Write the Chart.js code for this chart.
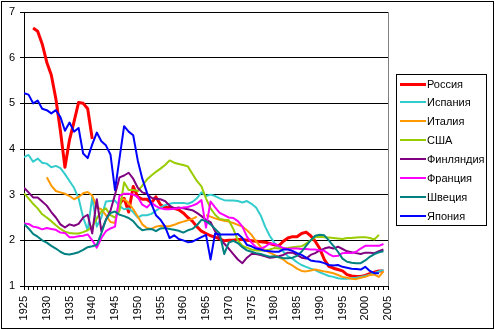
<!DOCTYPE html>
<html><head><meta charset="utf-8">
<script src="https://cdn.jsdelivr.net/npm/chart.js@4"></script>
<style>html,body{margin:0;padding:0;background:#fff;}#wrap{width:495px;height:330px;}</style>
</head><body><div id="wrap"><canvas id="c" width="495" height="330"></canvas></div>
<script>
const years = [
1925,1926,1927,1928,1929,1930,1931,1932,1933,1934,
1935,1936,1937,1938,1939,1940,1941,1942,1943,1944,
1945,1946,1947,1948,1949,1950,1951,1952,1953,1954,
1955,1956,1957,1958,1959,1960,1961,1962,1963,1964,
1965,1966,1967,1968,1969,1970,1971,1972,1973,1974,
1975,1976,1977,1978,1979,1980,1981,1982,1983,1984,
1985,1986,1987,1988,1989,1990,1991,1992,1993,1994,
1995,1996,1997,1998,1999,2000,2001,2002,2003,2004];

const seriesNames = ["Россия","Испания","Италия","США","Финляндия","Франция","Швеция","Япония"];

const russia = [
null,null,6.65,6.58,6.3,5.9,5.62,5.1,4.4,3.6,
4.2,4.6,5.02,5.0,4.88,4.22,null,null,null,null,
null,2.8,2.92,2.62,3.18,2.95,2.9,2.9,2.82,2.95,
2.78,2.72,2.72,2.7,2.67,2.6,2.5,2.42,2.3,2.2,
2.15,2.1,2.07,2.03,1.99,2.0,2.0,2.02,2.02,2.0,
1.99,1.98,1.97,1.96,1.93,1.9,1.88,1.98,2.05,2.08,
2.08,2.15,2.18,2.1,1.98,1.82,1.58,1.43,1.39,1.36,
1.33,1.25,1.22,1.21,1.21,1.23,1.27,1.3,1.33,1.33];

const spain = [
3.82,3.87,3.72,3.79,3.7,3.68,3.6,3.63,3.58,3.45,
3.3,3.15,2.92,2.5,2.22,2.95,2.3,2.5,2.85,2.86,
2.87,2.75,2.68,2.7,2.62,2.5,2.55,2.55,2.58,2.65,
2.72,2.77,2.8,2.82,2.82,2.82,2.8,2.84,2.92,3.05,
2.97,3.0,2.97,2.92,2.88,2.87,2.87,2.86,2.83,2.86,
2.8,2.72,2.55,2.3,2.1,1.95,1.85,1.75,1.65,1.6,
1.52,1.46,1.42,1.38,1.35,1.3,1.26,1.22,1.2,1.17,
1.16,1.16,1.17,1.18,1.2,1.22,1.25,1.28,1.32,1.35];

const italy = [
null,null,null,null,null,3.38,3.2,3.08,3.05,3.02,
2.97,2.9,2.95,3.03,3.06,2.98,2.72,2.68,2.55,2.4,
2.38,2.9,2.9,2.82,2.68,2.52,2.35,2.27,2.25,2.3,
2.32,2.31,2.31,2.34,2.38,2.41,2.44,2.47,2.52,null,
2.55,2.52,2.48,2.45,2.43,2.41,2.38,2.34,2.3,2.22,
2.12,1.98,1.86,1.78,1.73,1.68,1.63,1.58,1.5,1.45,
1.38,1.33,1.32,1.34,1.36,1.34,1.32,1.3,1.28,1.24,
1.2,1.18,1.16,1.15,1.18,1.2,1.24,1.25,1.2,1.32];

const usa = [
3.03,2.92,2.8,2.7,2.57,2.5,2.42,2.33,2.25,2.19,
2.16,2.15,2.15,2.18,2.22,2.3,2.48,2.63,2.7,2.55,
2.5,2.65,3.27,3.1,3.1,3.08,3.2,3.33,3.42,3.5,
3.57,3.65,3.75,3.7,3.67,3.65,3.62,3.46,3.3,3.18,
2.92,2.7,2.56,2.47,2.45,2.44,2.25,2.0,1.88,1.84,
1.8,1.78,1.78,1.78,1.8,1.83,1.82,1.82,1.83,1.85,
1.86,1.87,1.93,2.0,2.07,2.08,2.07,2.06,2.05,2.04,
2.03,2.05,2.05,2.06,2.07,2.07,2.05,2.02,2.12,null];

const finland = [
3.15,3.05,2.94,2.94,2.85,2.76,2.62,2.5,2.35,2.28,
2.35,2.32,2.36,2.5,2.56,2.15,2.9,2.2,2.45,2.65,
3.0,3.38,3.42,3.48,3.35,3.15,3.05,3.02,2.93,2.91,
2.9,2.86,2.76,2.7,2.72,2.7,2.68,2.66,2.6,2.53,
2.45,2.4,2.2,2.05,1.93,1.82,1.7,1.58,1.5,1.62,
1.7,1.7,1.68,1.65,1.62,1.63,1.65,1.68,1.73,1.73,
1.68,1.62,1.6,1.68,1.72,1.78,1.82,1.85,1.82,1.86,
1.81,1.76,1.74,1.72,1.7,1.73,1.73,1.72,1.76,1.8];

const france = [
2.37,2.36,2.3,2.28,2.24,2.27,2.25,2.23,2.17,2.16,
2.07,2.07,2.09,2.1,2.13,2.0,1.84,2.05,2.2,2.26,
2.3,2.98,3.02,3.02,3.0,2.95,2.78,2.72,2.82,2.75,
2.7,2.68,2.68,2.69,2.7,2.72,2.73,2.76,2.8,2.88,
2.28,2.85,2.72,2.6,2.55,2.5,2.49,2.42,2.3,2.08,
1.95,1.85,1.82,1.86,1.93,1.92,1.88,1.83,1.81,1.82,
1.82,1.81,1.81,1.8,1.8,1.78,1.77,1.7,1.65,1.66,
1.72,1.73,1.72,1.75,1.82,1.88,1.88,1.88,1.88,1.92];

const sweden = [
2.36,2.26,2.14,2.08,2.0,1.95,1.88,1.82,1.75,1.7,
1.69,1.71,1.74,1.79,1.85,1.87,1.9,2.15,2.45,2.6,
2.63,2.56,2.53,2.49,2.42,2.3,2.22,2.24,2.25,2.2,
2.26,2.27,2.25,2.23,2.21,2.17,2.22,2.25,2.33,2.45,
2.42,2.35,2.25,2.15,1.7,1.95,1.99,1.94,1.85,1.78,
1.75,1.72,1.7,1.67,1.64,1.65,1.63,1.61,1.61,1.62,
1.66,1.75,1.88,2.0,2.1,2.12,2.11,2.0,1.88,1.75,
1.6,1.53,1.51,1.5,1.5,1.56,1.64,1.7,1.74,1.76];

const japan = [
5.22,5.19,5.0,5.06,4.88,4.85,4.78,4.85,4.7,4.4,
4.58,4.38,4.46,3.9,3.8,4.1,4.36,4.17,4.08,3.88,
3.1,3.8,4.5,4.38,4.3,3.75,3.35,3.05,2.8,2.55,
2.45,2.3,2.05,2.11,2.03,2.0,1.96,1.97,2.02,2.07,
2.12,1.58,2.15,2.13,2.13,2.13,2.13,2.14,2.05,1.9,
1.87,1.82,1.8,1.77,1.76,1.75,1.75,1.8,1.8,1.77,
1.72,1.68,1.62,1.56,1.54,1.53,1.5,1.46,1.45,1.46,
1.42,1.4,1.38,1.37,1.36,1.42,1.33,1.28,1.28,null];

const yTicks = [1,2,3,4,5,6,7];
const seriesValues = [russia, spain, italy, usa, finland, france, sweden, japan];
const seriesColors = ["#FF0000","#33CCCC","#FF9900","#99CC00","#800080","#FF00FF","#008080","#0000FF"];
const seriesWidths = [3,2,2,2,2,2,2,2];

const FONT = "'Liberation Sans', Arial, sans-serif";

const datasets = seriesNames.map((name, i) => ({
  label: name,
  data: years.map((yr, k) => ({x: yr, y: seriesValues[i][k]})),
  borderColor: seriesColors[i],
  backgroundColor: seriesColors[i],
  borderWidth: seriesWidths[i],
  pointRadius: 0,
  tension: 0,
  spanGaps: false,
  borderJoinStyle: 'round',
  fill: false,
  order: -i
}));

const framePlugin = {
  id: 'frame',
  beforeDraw(chart) {
    const ctx = chart.ctx;
    ctx.save();
    ctx.fillStyle = '#fff';
    ctx.fillRect(0, 0, chart.width, chart.height);
    ctx.restore();
  },
  beforeDatasetsDraw(chart) {
    const {ctx, chartArea: a} = chart;
    ctx.save();
    ctx.strokeStyle = '#808080';
    ctx.lineWidth = 1;
    ctx.beginPath();
    const rx = Math.round(a.right) + 0.5;
    ctx.moveTo(rx, a.top);
    ctx.lineTo(rx, a.bottom);
    ctx.stroke();
    ctx.restore();
  },
  afterDraw(chart) {
    const ctx = chart.ctx;
    ctx.save();
    // outer frame
    ctx.strokeStyle = '#000';
    ctx.lineWidth = 1;
    ctx.strokeRect(1.5, 1.5, 492, 327);
    // legend
    const lx = 396.5, ly = 74.5, lw = 90, lh = 151;
    ctx.strokeRect(lx, ly, lw, lh);
    ctx.font = '11px ' + FONT;
    ctx.textBaseline = 'middle';
    ctx.textAlign = 'left';
    chart.data.datasets.forEach((ds, i) => {
      const y = Math.round(83.5 + i * 18.9);
      ctx.strokeStyle = ds.borderColor;
      ctx.lineWidth = ds.borderWidth;
      ctx.beginPath();
      ctx.moveTo(400, y + (ds.borderWidth % 2 ? 0.5 : 0));
      ctx.lineTo(426, y + (ds.borderWidth % 2 ? 0.5 : 0));
      ctx.stroke();
      ctx.fillStyle = '#000';
      ctx.fillText(ds.label, 427, y + 0.5);
    });
    ctx.restore();
  }
};

new Chart(document.getElementById('c'), {
  type: 'line',
  data: { datasets },
  options: {
    responsive: false,
    devicePixelRatio: 1,
    animation: false,
    events: [],
    layout: { padding: { top: 12, right: 107, left: 0, bottom: 0 } },
    plugins: { legend: { display: false }, tooltip: { enabled: false } },
    scales: {
      x: {
        type: 'linear',
        min: 1925, max: 2005,
        afterFit(s) { s.height = 44; },
        border: { color: '#000', width: 1 },
        grid: { drawOnChartArea: false, drawTicks: true, tickLength: 4, tickColor: '#000', color: '#000' },
        ticks: {
          stepSize: 1, autoSkip: false, maxRotation: 90, minRotation: 90, padding: 6,
          color: '#000', font: { size: 11, family: FONT },
          callback: (v) => (v % 5 === 0 ? String(v) : '')
        }
      },
      y: {
        min: yTicks[0], max: yTicks[yTicks.length - 1],
        afterFit(s) { s.width = 24; },
        border: { color: '#000', width: 1 },
        grid: { color: '#000', lineWidth: 1, drawTicks: true, tickLength: 4, tickColor: '#000' },
        ticks: { stepSize: 1, padding: 5, color: '#000', font: { size: 11, family: FONT } }
      }
    }
  },
  plugins: [framePlugin]
});
</script></body></html>
